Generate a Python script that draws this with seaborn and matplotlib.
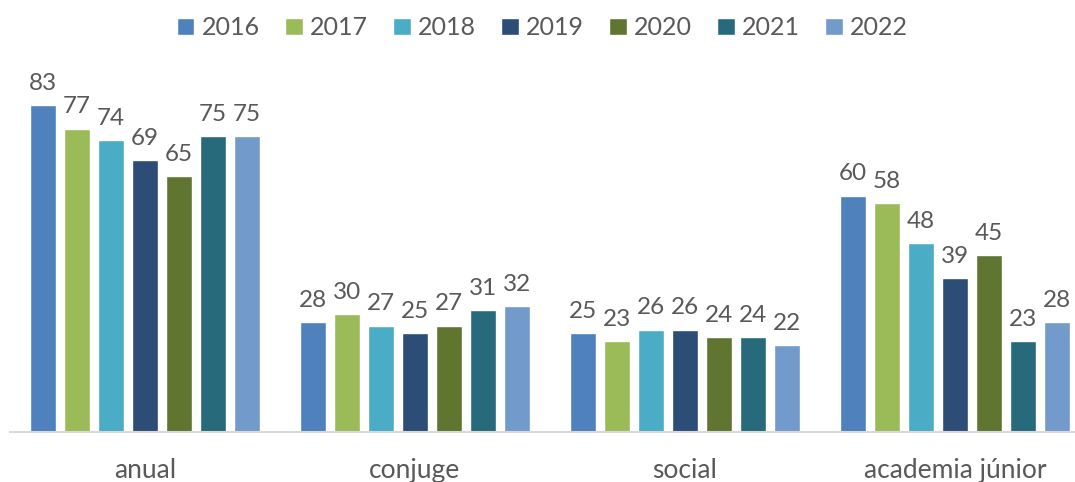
import matplotlib
matplotlib.use('Agg')
import matplotlib.pyplot as plt
import seaborn as sns
import pandas as pd

categorias = ['anual', 'conjuge', 'social', 'academia júnior']
anos = ['2016', '2017', '2018', '2019', '2020', '2021', '2022']
valores = {
    '2016': [83, 28, 25, 60],
    '2017': [77, 30, 23, 58],
    '2018': [74, 27, 26, 48],
    '2019': [69, 25, 26, 39],
    '2020': [65, 27, 24, 45],
    '2021': [75, 31, 24, 23],
    '2022': [75, 32, 22, 28],
}
cores = ['#4F81BD', '#9BBB59', '#4BACC6', '#2C4D75', '#5F7530', '#276A7C', '#729ACA']

linhas = []
for ano in anos:
    for cat, v in zip(categorias, valores[ano]):
        linhas.append({'categoria': cat, 'ano': ano, 'valor': v})
df = pd.DataFrame(linhas)

sns.set_style('white')
plt.rcParams['font.family'] = ['Lato', 'DejaVu Sans']
texto = '#595959'

fig = plt.figure(figsize=(10.75, 4.82), dpi=100)
ax = fig.add_axes([10 / 1075, 50 / 482, 1065 / 1075, 372 / 482])

sns.barplot(data=df, x='categoria', y='valor', hue='ano', order=categorias,
            hue_order=anos, palette=cores, width=0.88, gap=0.23,
            saturation=1, errorbar=None, ax=ax, legend=True)

for cont in ax.containers:
    ax.bar_label(cont, fmt='%d', padding=8, fontsize=17.5, color=texto)

ax.set_ylim(0, 94.4)
ax.set_xlim(-0.5, 3.445)
ax.set_xlabel('')
ax.set_ylabel('')
ax.set_yticks([])
for s in ['top', 'right', 'left']:
    ax.spines[s].set_visible(False)
ax.spines['bottom'].set_color('#D9D9D9')
ax.spines['bottom'].set_linewidth(1.5)
ax.tick_params(axis='x', length=0, pad=19, labelsize=19, labelcolor=texto)

handles, labels = ax.get_legend_handles_labels()
ax.legend(handles, labels, loc='center', bbox_to_anchor=(0.5, 1.087),
          ncol=7, frameon=False, labelcolor=texto,
          prop={'size': 18},
          handlelength=0.7, handleheight=0.7, handletextpad=0.3, columnspacing=1.0)

fig.savefig('out.png', dpi=100)
